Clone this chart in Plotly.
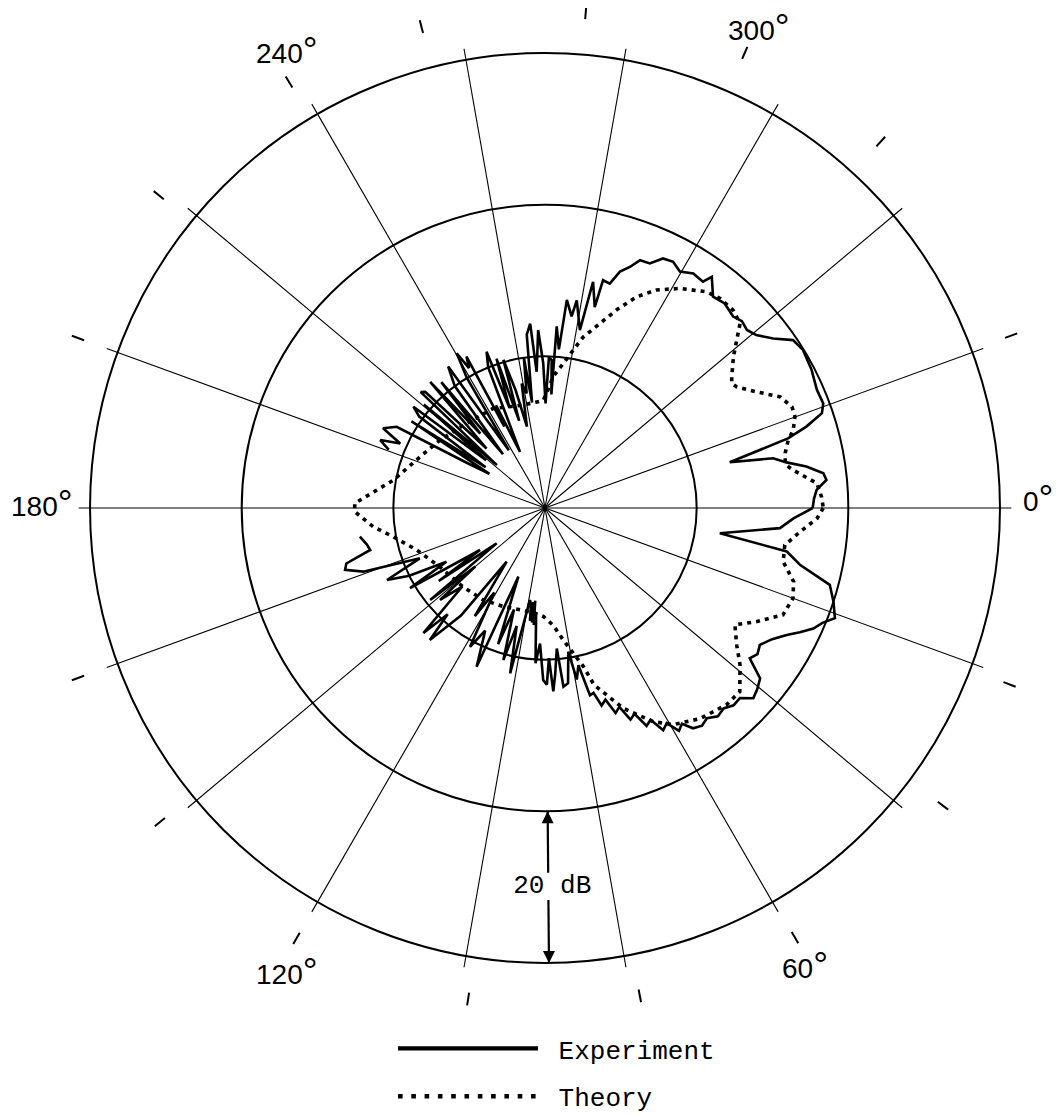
import math
import plotly.graph_objects as go

# ---------------- data (angles in degrees, clockwise from 0 at right; levels in dB) -------------
EXP_THETA = [
    0.0, 2.4, 4.9, 8.2, 10.2, 12.6, 15.1, 18.0, 20.8, 22.5, 24.2, 26.0, 27.7, 30.0, 32.5, 34.5,
    36.3, 38.4, 40.5, 42.4, 44.3, 46.3, 48.3, 50.3, 52.4, 54.2, 56.1, 57.6, 59.0, 60.5, 62.0,
    63.5, 65.0, 66.5, 68.0, 69.5, 71.0, 72.5, 74.0, 75.3, 76.5,
    78.0, 79.5, 80.8, 82.5, 84.1, 85.2, 86.5, 87.4, 88.5, 89.4, 90.6, 92.1, 93.5, 94.8, 95.5,
    96.0, 96.5, 97.0, 97.6, 98.3, 99.3, 101.9, 103.5, 105.3, 107.0, 109.0, 111.2, 113.3, 116.0,
    118.4, 121.0, 123.0, 125.5, 128.0, 131.1, 132.5, 134.2, 136.5, 138.8, 140.0, 141.3, 143.8,
    145.5, 147.1, 149.3, 151.4, 153.5, 155.5, 158.1, 160.7, 162.8, 164.4, 166.5, 168.5, 171.2,
    None,
    200.5, 201.5, 202.4, 204.0, 206.2, 208.7, 210.0, 211.5, 213.0, 214.5, 216.0, 217.6, 219.0,
    220.5, 221.7, 223.0, 224.1, 225.5, 227.7, 229.0, 230.5, 232.0, 233.5, 235.6, 236.5, 238.0,
    239.0, 240.3, 241.5, 242.6, 243.5, 244.5, 246.0, 248.0, 249.5, 250.5, 252.0, 253.5, 254.3,
    256.0, 257.5, 259.4, 260.9, 262.0, 263.0, 264.0, 265.4, 266.5, 267.8, 269.3, 270.3, 271.5,
    272.6, 273.2, 273.7, 275.0, 276.0, 277.9, 278.7, 281.1, 282.0, 283.9, 284.3, 286.1, 287.6,
    289.4, 291.0, 293.2, 295.3, 297.5, 299.7, 302.3, 304.9, 305.8, 308.5, 311.3, 314.5, 316.5,
    318.6, 320.7, 323.4, 325.9, 328.5, 332.6, 336.5, 339.4, 341.1, 342.7, 344.0, 346.1, 347.7,
    349.3, 351.0, 352.9, 354.3, 356.2, 358.0, 360.0,
]
EXP_R = [
    35.3, 32.8, 31.1, 23.3, 32.4, 34.5, 38.9, 40.0, 40.9, 39.6, 38.8, 37.4, 36.0, 34.6, 33.6, 34.0,
    33.5, 36.2, 36.8, 37.2, 35.9, 36.0, 35.4, 35.7, 35.0, 35.4, 35.0, 33.7, 34.3, 32.6, 33.2,
    31.2, 31.7, 29.6, 30.1, 28.0, 28.6, 26.5, 27.1, 25.2, 25.4,
    21.2, 23.0, 19.2, 23.3, 23.7, 18.6, 22.0, 24.2, 19.8, 23.3, 22.7, 17.9, 20.5, 14.0, 15.5,
    12.3, 15.2, 12.5, 15.0, 12.8, 12.3, 22.3, 16.0, 20.8, 14.0, 19.0, 9.7, 22.8, 18.0,
    20.8, 13.0, 17.0, 8.7, 18.0, 23.1, 19.0, 23.0, 15.0, 18.4, 12.0, 19.4, 7.9,
    17.0, 10.2, 20.7, 14.8, 20.0, 22.9, 17.8, 25.4, 27.6, 27.2, 23.7, 24.0, 24.7,
    None,
    22.0, 22.8, 23.5, 20.9, 23.8, 22.3, 12.0, 8.6, 21.0, 9.5, 20.5, 21.9, 10.0,
    21.0, 8.5, 22.4, 22.0, 11.0, 22.5, 13.0, 21.5, 9.0, 20.0, 22.6, 14.0, 9.0,
    20.0, 23.5, 21.0, 22.5, 12.0, 15.0, 8.1, 20.0, 22.0, 14.0, 20.7, 12.0, 20.3,
    16.0, 11.0, 16.7, 15.3, 20.0, 14.0, 23.0, 24.4, 18.0, 23.5, 19.1, 13.8, 19.9,
    19.5, 15.0, 24.0, 21.0, 27.6, 25.5, 27.7, 23.9, 30.5, 27.3, 31.0, 30.8, 32.7,
    33.7, 35.0, 35.1, 36.4, 36.6, 35.9, 36.6, 36.4, 37.6, 35.6, 35.9, 35.4, 35.8,
    35.5, 36.0, 37.5, 39.5, 39.9, 39.6, 39.1, 39.2, 38.6, 36.1, 33.4, 25.1, 30.8,
    32.4, 34.9, 37.0, 37.3, 35.9, 35.5, 35.3,
]

THEORY_THETA = [
    0.0, 2.2, 5.3, 8.8, 12.7, 16.5, 20.0, 24.2, 28.2, 31.6, 35.6, 38.8, 43.3, 47.3, 53.6, 59.4,
    63.1, 68.6, 74.5, 76.4, 79.0, 82.1, 86.0, 90.9, 96.0, 102.0, 112.9, 123.8, 136.1, 150.8,
    161.9, 169.3, 173.8, 178.9, 181.4, 190.5, 200.5, 212.9, 226.0, 242.6, 251.8, 257.3, 265.0,
    269.1, 272.0, 273.6, 277.2, 280.2, 282.6, 286.6, 289.9, 293.5, 297.1, 301.6, 306.8, 309.8,
    313.6, 316.6, 321.2, 324.9, 326.3, 327.7, 331.2, 334.7, 337.7, 339.9, 342.6, 344.4, 347.1,
    349.7, 351.3, 354.8, 357.7, 360.0,
]
THEORY_R = [
    36.7, 35.9, 33.8, 32.0, 32.2, 34.2, 34.8, 34.4, 31.7, 29.4, 31.1, 33.0, 35.3, 35.3, 34.5, 33.2,
    31.6, 28.4, 24.2, 21.5, 19.5, 17.6, 15.5, 14.3, 13.9, 13.8, 14.1, 14.6, 15.0, 15.9,
    17.8, 20.4, 22.8, 25.1, 25.1, 20.3, 18.1, 16.5, 15.3, 14.8, 14.1, 13.9, 14.0,
    14.2, 16.0, 17.4, 19.2, 21.2, 23.1, 25.4, 27.8, 30.4, 32.3, 34.0, 35.6, 36.0,
    36.0, 35.4, 31.9, 30.1, 29.6, 29.9, 31.8, 34.3, 35.2, 35.1, 34.3, 33.3, 32.5,
    32.2, 33.1, 36.0, 36.5, 36.7,
]

SERIES_NAMES = ["Experiment", "Theory"]
RING_DB = [20, 40, 60]
SPOKE_ANGLES = list(range(0, 360, 20))
SPOKE_END_DB = 61.5
TICK_ANGLES = [20.8, 36.8, 59.8, 79.0, 98.9, 120.0, 140.8, 160.0, 200.0, 219.0, 239.0,
               255.6, 274.7, 293.7, 312.5, 339.7]
LABEL_TEXT = ["0", "60", "120", "180", "240", "300"]
LABEL_THETA = [358.9, 60.4, 119.1, 180.5, 240.6, 294.0]
LABEL_R = [65.0, 69.4, 69.9, 66.4, 69.3, 69.4]
SCALE_LABEL = "20 dB"
SCALE_THETA = 89.5
SCALE_FROM, SCALE_TO = 40, 60
SCALE_GAP = (48.1, 51.7)

# ---------------- geometry / style ----------------
W, H = 1064, 1116
CX, CY = 537, 500          # polar centre in figure pixels
R_PX = 490                 # pixel radius of the radial range end
R_MAX = 64.62
MONO = "Liberation Mono"
SANS = "Liberation Sans"


def to_paper(theta_deg, r_db):
    a = math.radians(theta_deg)
    rp = r_db / R_MAX * R_PX
    return (CX + rp * math.cos(a)) / W, 1 - (CY + rp * math.sin(a)) / H


fig = go.Figure()

# spokes
sp_r, sp_t = [], []
for a in SPOKE_ANGLES:
    sp_r += [0, SPOKE_END_DB, None]
    sp_t += [a, a, None]
fig.add_trace(go.Scatterpolar(r=sp_r, theta=sp_t, mode="lines",
                              line=dict(color="black", width=1.1),
                              showlegend=False, hoverinfo="skip"))

# data curves
fig.add_trace(go.Scatterpolar(r=EXP_R, theta=EXP_THETA, mode="lines", name=SERIES_NAMES[0],
                              line=dict(color="black", width=2.6),
                              showlegend=False, hoverinfo="skip"))
fig.add_trace(go.Scatterpolar(r=THEORY_R, theta=THEORY_THETA, mode="lines", name=SERIES_NAMES[1],
                              line=dict(color="black", width=3.6, dash="4px,5px"),
                              showlegend=False, hoverinfo="skip"))

# legend entries (key drawn heavier, as in the original)
fig.add_trace(go.Scatterpolar(r=[None], theta=[None], mode="lines",
                              name="\u00a0" + SERIES_NAMES[0], legendgroup="a",
                              line=dict(color="black", width=4.2), hoverinfo="skip"))
fig.add_trace(go.Scatterpolar(r=[None], theta=[None], mode="lines",
                              name="\u00a0" + SERIES_NAMES[1], legendgroup="b",
                              line=dict(color="black", width=4.6, dash="4.6px,8.7px"),
                              hoverinfo="skip"))

# 20 dB scale arrow
fig.add_trace(go.Scatterpolar(r=[SCALE_FROM, SCALE_GAP[0], None, SCALE_GAP[1], SCALE_TO],
                              theta=[SCALE_THETA] * 5, mode="lines",
                              line=dict(color="black", width=2.2),
                              showlegend=False, hoverinfo="skip"))
fig.add_trace(go.Scatterpolar(r=[SCALE_FROM, SCALE_TO], theta=[SCALE_THETA] * 2, mode="markers",
                              marker=dict(symbol=["arrow-up", "arrow-down"], size=12,
                                          color="black", line=dict(width=0)),
                              showlegend=False, hoverinfo="skip"))
fig.add_trace(go.Scatterpolar(r=[sum(SCALE_GAP) / 2], theta=[88.9], mode="text",
                              text=[SCALE_LABEL], textposition="middle center",
                              textfont=dict(family=MONO, size=26, color="black"),
                              showlegend=False, hoverinfo="skip"))

# angle labels (outside the radial range, so placed as annotations at their polar position)
annotations = []
for txt, th, rr in zip(LABEL_TEXT, LABEL_THETA, LABEL_R):
    px, py = to_paper(th, rr)
    annotations.append(dict(x=px, y=py, xref="paper", yref="paper",
                            text=txt + "<span style='font-size:37px'>\u00b0</span>",
                            showarrow=False, xanchor="center", yanchor="middle",
                            font=dict(family=SANS, size=28, color="black")))

fig.update_layout(
    width=W, height=H,
    margin=dict(l=0, r=0, t=0, b=0, autoexpand=False),
    paper_bgcolor="white", plot_bgcolor="white",
    polar=dict(
        domain=dict(x=[(CX - R_PX) / W, (CX + R_PX) / W],
                    y=[1 - (CY + R_PX) / H, 1 - (CY - R_PX) / H]),
        bgcolor="white",
        radialaxis=dict(range=[0, R_MAX], tickmode="array", tickvals=RING_DB,
                        showticklabels=False, ticks="", showline=False,
                        showgrid=True, gridcolor="black", gridwidth=1.6),
        angularaxis=dict(direction="clockwise", rotation=0, showgrid=False, showline=False,
                         tickmode="array", tickvals=TICK_ANGLES, ticks="outside",
                         ticklen=13, tickwidth=1.5, tickcolor="black",
                         showticklabels=False),
    ),
    annotations=annotations,
    showlegend=True,
    legend=dict(x=385 / W, y=1 - 1017 / H, xanchor="left", yanchor="top",
                font=dict(family=MONO, size=26, color="black"),
                itemwidth=140, traceorder="grouped", tracegroupgap=11,
                bgcolor="rgba(0,0,0,0)"),
)

fig.write_html("out.html")
